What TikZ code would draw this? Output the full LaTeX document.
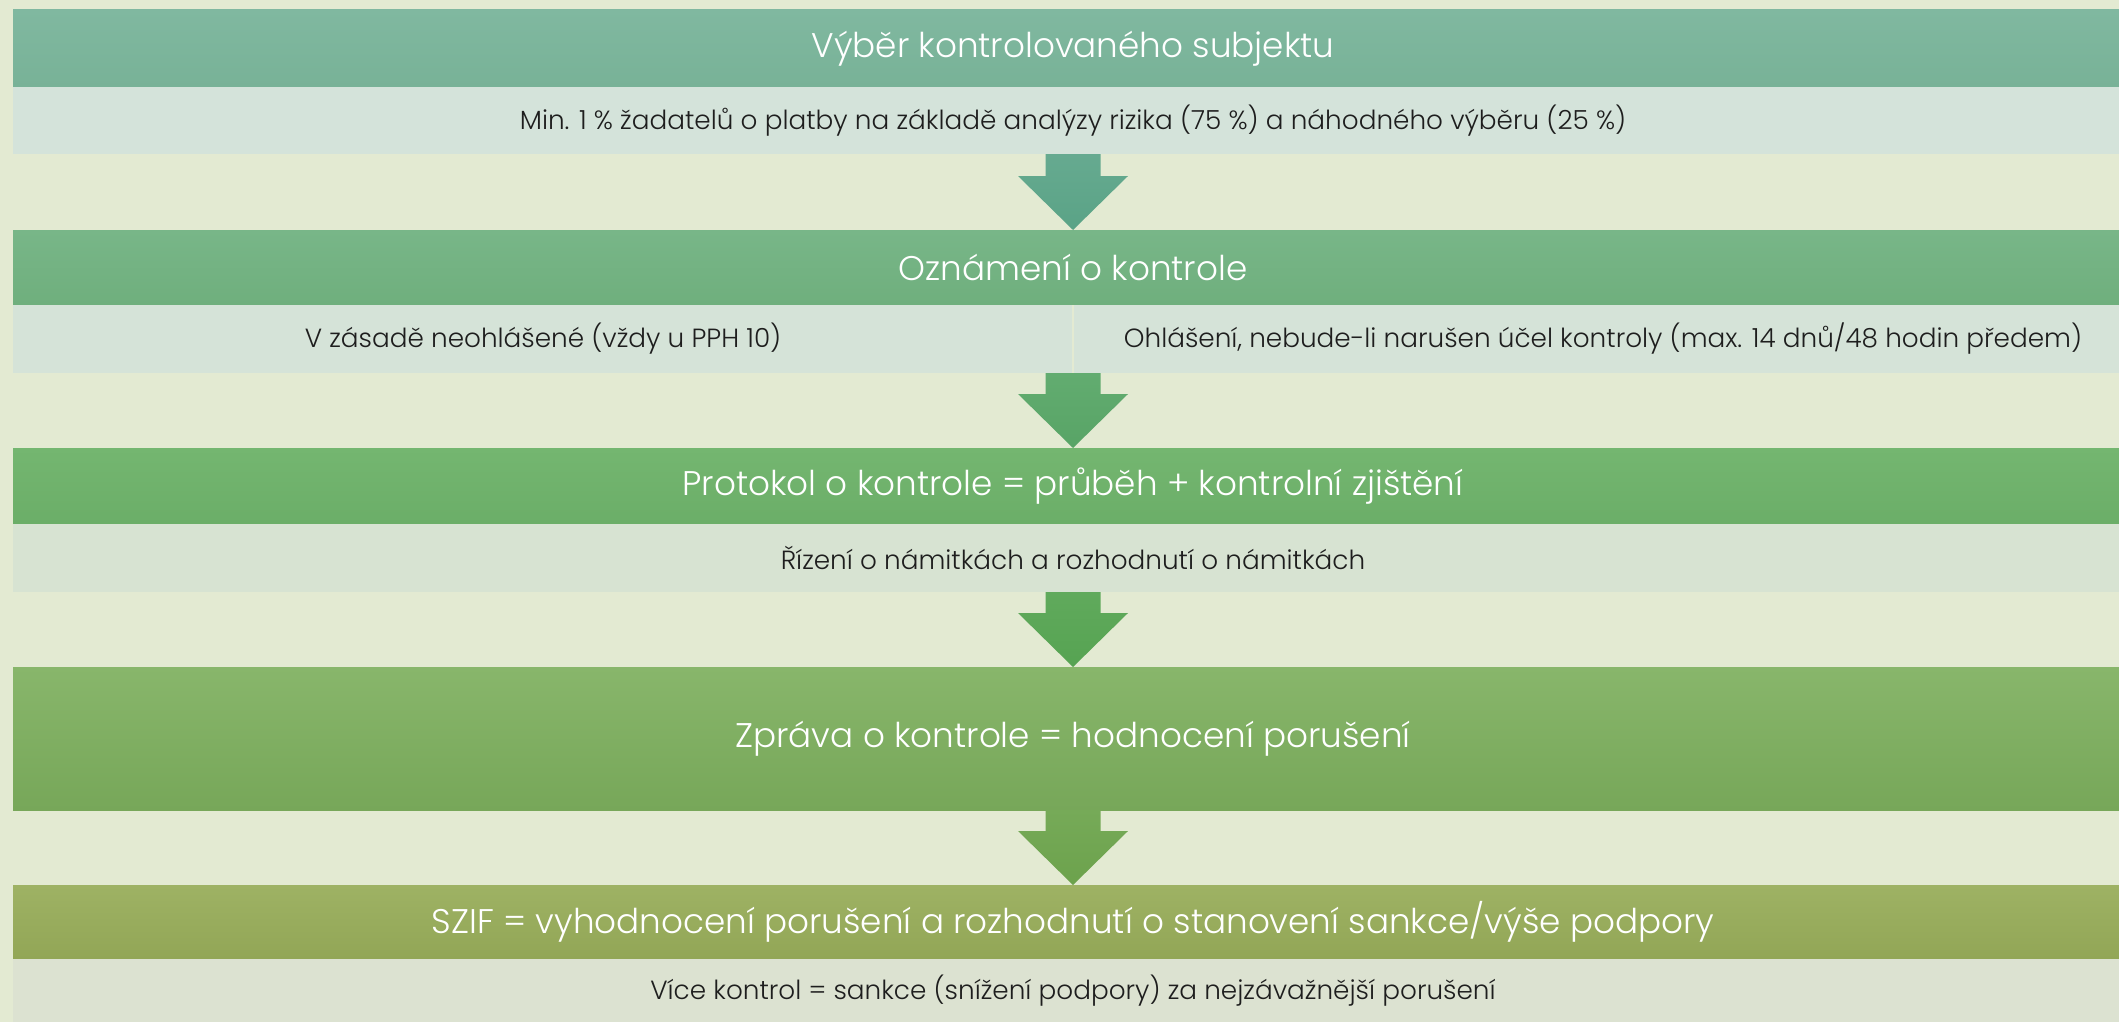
\documentclass[tikz,border=0pt]{standalone}
\usepackage{fontspec}
\setmainfont{Poppins}[UprightFont={* Light}]
\usetikzlibrary{calc}
\definecolor{bgc}{HTML}{E3EAD2}
\definecolor{txtc}{HTML}{1E1E1E}
\definecolor{hAt}{HTML}{80B8A0}\definecolor{hAb}{HTML}{78B297}
\definecolor{hBt}{HTML}{78B688}\definecolor{hBb}{HTML}{6FAF7D}
\definecolor{hCt}{HTML}{74B670}\definecolor{hCb}{HTML}{6BAE68}
\definecolor{hDt}{HTML}{88B66B}\definecolor{hDb}{HTML}{77A759}
\definecolor{hEt}{HTML}{9EB264}\definecolor{hEb}{HTML}{92A656}
\definecolor{aAt}{HTML}{66AA90}\definecolor{aAb}{HTML}{5AA386}
\definecolor{aBt}{HTML}{62AC70}\definecolor{aBb}{HTML}{58A466}
\definecolor{aCt}{HTML}{60AA5C}\definecolor{aCb}{HTML}{56A352}
\definecolor{aDt}{HTML}{76AA58}\definecolor{aDb}{HTML}{6CA24C}
\definecolor{sA}{HTML}{D4E3DA}
\definecolor{sB}{HTML}{D5E3D8}
\definecolor{sC}{HTML}{D7E3D2}
\definecolor{sE}{HTML}{DCE2D1}
\newcommand\blockarrow[4]{%
  \shade[top color=#3,bottom color=#4]
    ($(#1)+(-27.5,0)$) -- ($(#1)+(27.5,0)$) -- ($(#2)+(27.5,-54)$) --
    ($(#2)+(55,-54)$) -- (#2) -- ($(#2)+(-55,-54)$) --
    ($(#2)+(-27.5,-54)$) -- cycle;}
\begin{document}
\begin{tikzpicture}[x=1pt,y=-1pt,
  bar/.style={rectangle,inner sep=0pt,outer sep=0pt,minimum width=2120pt,anchor=center},
  hdr/.style={bar,text=white,font=\fontsize{34.2}{40}\selectfont},
  sub/.style={bar,text=txtc,font=\fontsize{26.3}{30}\selectfont},
  halfsub/.style={sub,minimum width=1060pt}]
\useasboundingbox (0,0) rectangle (2119,1022);
\clip (0,0) rectangle (2119,1022);
\fill[bgc] (0,0) rectangle (2119,1022);
% rows
\node[hdr,top color=hAt,bottom color=hAb,minimum height=77pt] (h1) at (1073,48.5) {Výběr kontrolovaného subjektu};
\node[sub,fill=sA,minimum height=67pt] (s1) at (1073,120.5) {Min. 1 \% žadatelů o platby na základě analýzy rizika (75 \%) a náhodného výběru (25 \%)};
\node[hdr,top color=hBt,bottom color=hBb,minimum height=75pt] (h2) at (1073,267.5) {Oznámení o kontrole};
\node[halfsub,fill=sB,minimum height=68pt] (s2a) at (543,339) {V zásadě neohlášené (vždy u PPH 10)};
\node[halfsub,fill=sB,minimum height=68pt] (s2b) at (1603,339) {Ohlášení, nebude-li narušen účel kontroly (max. 14 dnů/48 hodin předem)};
\node[hdr,top color=hCt,bottom color=hCb,minimum height=76pt] (h3) at (1073,486) {Protokol o kontrole = průběh + kontrolní zjištění};
\node[sub,fill=sC,minimum height=68pt] (s3) at (1073,558) {Řízení o námitkách a rozhodnutí o námitkách};
\node[hdr,top color=hDt,bottom color=hDb,minimum height=143pt] (h4) at (1073,738.5) {Zpráva o kontrole = hodnocení porušení};
\node[hdr,top color=hEt,bottom color=hEb,minimum height=74pt] (h5) at (1073,922) {SZIF = vyhodnocení porušení a rozhodnutí o stanovení sankce/výše podpory};
\node[sub,fill=sE,minimum height=64pt] (s5) at (1073,991) {Více kontrol = sankce (snížení podpory) za nejzávažnější porušení};
% separators
\draw[bgc,line width=1.5pt] (s2a.north east) -- (s2a.south east);
% arrows
\blockarrow{s1.south}{h2.north}{aAt}{aAb}
\blockarrow{s2a.south east}{h3.north}{aBt}{aBb}
\blockarrow{s3.south}{h4.north}{aCt}{aCb}
\blockarrow{h4.south}{h5.north}{aDt}{aDb}
\end{tikzpicture}
\end{document}
